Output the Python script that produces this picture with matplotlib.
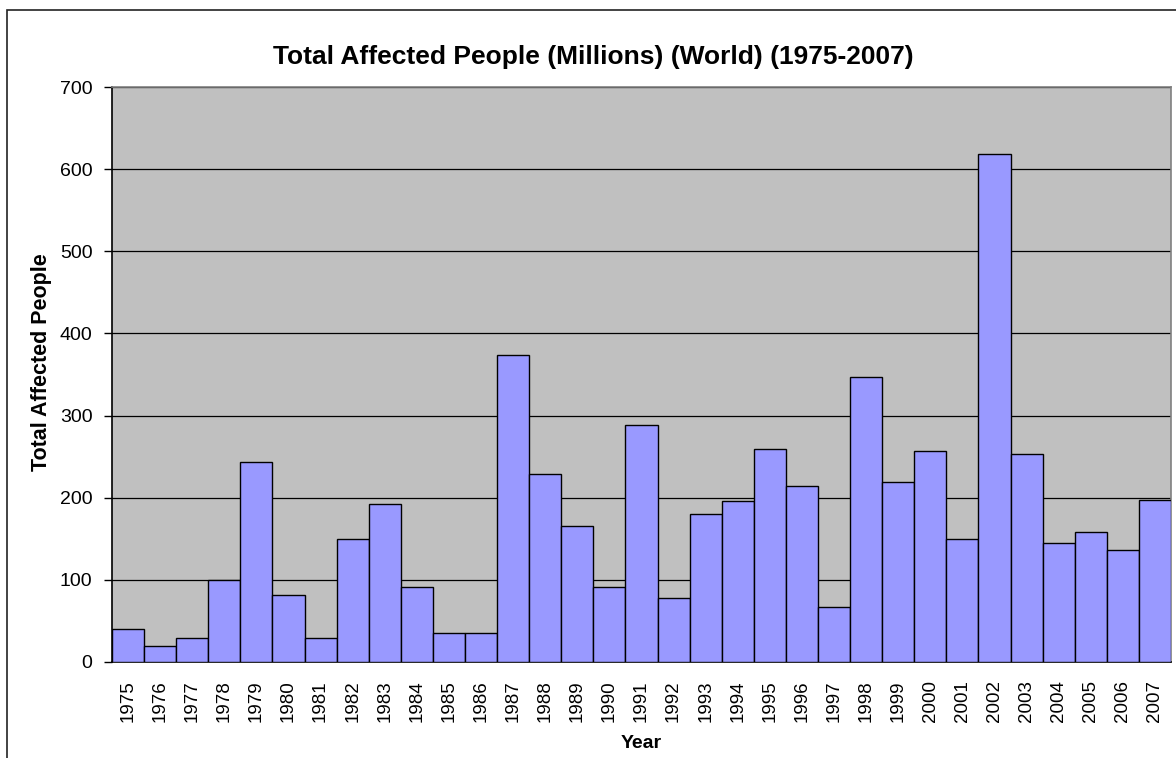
import matplotlib

matplotlib.use("Agg")
import matplotlib.pyplot as plt
from matplotlib.patches import Rectangle

plt.rcParams["font.family"] = ["Liberation Sans", "DejaVu Sans"]

years = [str(y) for y in range(1975, 2008)]
affected = [
    40, 20, 29, 100, 244, 82, 29, 150, 192, 91, 35,
    35, 374, 229, 165, 91, 288, 78, 180, 196, 259, 214,
    67, 347, 219, 257, 150, 618, 253, 145, 158, 136, 197,
]
yticks = [0, 100, 200, 300, 400, 500, 600, 700]

W, H = 1176, 758
fig = plt.figure(figsize=(W / 100, H / 100), dpi=100)

# outer chart frame (runs off the right and bottom edges)
fig.patches.append(
    Rectangle((7 / W, -0.1), 1.2, 1 - 10 / H + 0.1, transform=fig.transFigure,
              fill=False, edgecolor="#222222", linewidth=1.2)
)

ax = fig.add_axes([112 / W, (H - 662) / H, (1171 - 112) / W, (662 - 87) / H])
ax.set_facecolor("#C0C0C0")

x = range(len(years))
ax.bar(x, affected, width=1.0, color="#9999FF", edgecolor="black", linewidth=1.0, zorder=3)

ax.set_xlim(-0.5, len(years) - 0.5)
ax.set_ylim(0, 700)
ax.set_yticks(yticks)
ax.yaxis.grid(True, color="black", linewidth=0.9, zorder=1)
ax.set_axisbelow(True)

ax.set_xticks(list(x))
ax.set_xticklabels(years, rotation=90, fontsize=13.5)
ax.tick_params(axis="x", length=0, pad=13)
ax.tick_params(axis="y", length=6, width=1, labelsize=14, pad=8)

for side in ("top", "right"):
    ax.spines[side].set_color("#808080")
    ax.spines[side].set_linewidth(1.2)
for side in ("left", "bottom"):
    ax.spines[side].set_color("black")
    ax.spines[side].set_linewidth(1.2)

fig.text(593 / W, 1 - 57 / H, "Total Affected People (Millions) (World) (1975-2007)",
         ha="center", va="center", fontsize=19, fontweight="bold")
fig.text(42 / W, 1 - 362 / H, "Total Affected People", rotation=90,
         ha="center", va="center", fontsize=15.5, fontweight="bold")
fig.text(641 / W, 1 - 743 / H, "Year", ha="center", va="center",
         fontsize=14, fontweight="bold")

fig.savefig("out.png", dpi=100)
